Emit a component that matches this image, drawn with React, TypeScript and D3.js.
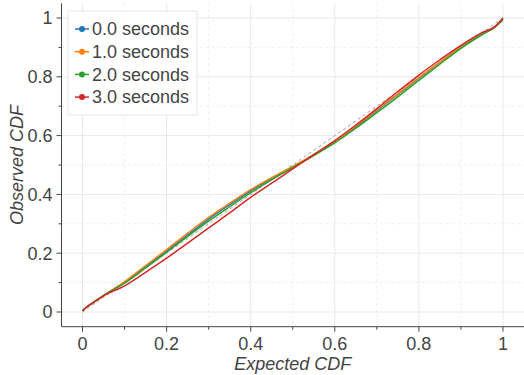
import React from "react";
import * as d3 from "d3";

// expected CDF sample points
const expected = [0, 0.01, 0.02, 0.05, 0.1, 0.15, 0.2, 0.25, 0.3, 0.35, 0.4, 0.45, 0.5, 0.55, 0.6, 0.65, 0.7, 0.75, 0.8, 0.85, 0.9, 0.95, 0.98, 1];

// observed CDF per lag
const obs0 = [0.004, 0.017, 0.027, 0.056, 0.1, 0.154, 0.207, 0.262, 0.316, 0.365, 0.412, 0.455, 0.493, 0.535, 0.58, 0.63, 0.685, 0.74, 0.795, 0.85, 0.902, 0.947, 0.97, 0.995];
const obs1 = [0.004, 0.017, 0.027, 0.056, 0.103, 0.158, 0.212, 0.268, 0.322, 0.37, 0.416, 0.457, 0.495, 0.535, 0.58, 0.632, 0.687, 0.742, 0.797, 0.85, 0.9, 0.945, 0.968, 0.998];
const obs2 = [0.004, 0.017, 0.027, 0.056, 0.098, 0.15, 0.203, 0.257, 0.309, 0.358, 0.406, 0.45, 0.491, 0.532, 0.575, 0.625, 0.678, 0.732, 0.788, 0.843, 0.897, 0.943, 0.968, 0.993];
const obs3 = [0.004, 0.017, 0.027, 0.055, 0.089, 0.135, 0.183, 0.234, 0.286, 0.337, 0.39, 0.438, 0.487, 0.535, 0.583, 0.636, 0.692, 0.75, 0.806, 0.858, 0.907, 0.95, 0.97, 1.0];

const seriesNames = ["0.0 seconds", "1.0 seconds", "2.0 seconds", "3.0 seconds"];
const seriesColors = ["#1f77b4", "#ff7f0e", "#2ca02c", "#d62728"];
const seriesValues = [obs0, obs1, obs2, obs3];

const majorTicks = [0, 0.2, 0.4, 0.6, 0.8, 1];
const minorTicks = [0.1, 0.3, 0.5, 0.7, 0.9];

const font = "'Liberation Sans', Arial, Helvetica, sans-serif";
const textColor = "#444";

export default function App() {
  const W = 524;
  const H = 375;
  const x = d3.scaleLinear().domain([-0.05, 1.05]).range([61.5, 524]);
  const y = d3.scaleLinear().domain([-0.05, 1.05]).range([326.7, 3.3]);

  const line = d3
    .line<[number, number]>()
    .x((d) => x(d[0]))
    .y((d) => y(d[1]))
    .curve(d3.curveMonotoneX);

  const fmt = (v: number) => (v === 0 || v === 1 ? String(v) : v.toFixed(1));
  const axisY = y(-0.05);
  const axisX = x(-0.05);

  return (
    <svg width={W} height={H} style={{ position: "absolute", left: 0, top: 0 }} fontFamily={font}>
      {/* grid */}
      <g>
        {minorTicks.map((t) => (
          <g key={"mn" + t}>
            <line x1={x(t)} x2={x(t)} y1={y(1.05)} y2={axisY} stroke="#eee" strokeDasharray="3,3" />
            <line x1={axisX} x2={W} y1={y(t)} y2={y(t)} stroke="#eee" strokeDasharray="3,3" />
          </g>
        ))}
        {majorTicks.map((t) => (
          <g key={"mj" + t}>
            <line x1={x(t)} x2={x(t)} y1={y(1.05)} y2={axisY} stroke="#e8e8e8" />
            <line x1={axisX} x2={W} y1={y(t)} y2={y(t)} stroke="#e8e8e8" />
          </g>
        ))}
      </g>

      {/* reference diagonal */}
      <path d={line([[0, 0], [1, 1]]) ?? ""} stroke="#999" strokeWidth={1} strokeDasharray="3,3" fill="none" />

      {/* curves */}
      {seriesValues.map((vals, i) => (
        <path
          key={seriesNames[i]}
          d={line(expected.map((e, j) => [e, vals[j]] as [number, number])) ?? ""}
          stroke={seriesColors[i]}
          strokeWidth={1.5}
          fill="none"
        />
      ))}

      {/* axes */}
      <line x1={axisX} x2={axisX} y1={y(1.05)} y2={axisY} stroke="#444" />
      <line x1={axisX} x2={W} y1={axisY} y2={axisY} stroke="#444" />
      {majorTicks.map((t) => (
        <g key={"tk" + t}>
          <line x1={axisX - 5} x2={axisX} y1={y(t)} y2={y(t)} stroke="#444" />
          <text x={axisX - 9} y={y(t)} dy="0.35em" textAnchor="end" fontSize={18} fill={textColor}>
            {fmt(t)}
          </text>
          <line x1={x(t)} x2={x(t)} y1={axisY} y2={axisY + 5} stroke="#444" />
          <text x={x(t)} y={axisY + 23} textAnchor="middle" fontSize={18} fill={textColor}>
            {fmt(t)}
          </text>
        </g>
      ))}
      {minorTicks.map((t) => (
        <g key={"mt" + t}>
          <line x1={axisX - 3} x2={axisX} y1={y(t)} y2={y(t)} stroke="#444" />
          <line x1={x(t)} x2={x(t)} y1={axisY} y2={axisY + 3} stroke="#444" />
        </g>
      ))}

      {/* axis titles */}
      <text x={x(0.5)} y={370} textAnchor="middle" fontSize={18} fontStyle="italic" fill={textColor}>
        Expected CDF
      </text>
      <text
        transform={`translate(23,${y(0.5)}) rotate(-90)`}
        textAnchor="middle"
        fontSize={18}
        fontStyle="italic"
        fill={textColor}
      >
        Observed CDF
      </text>

      {/* legend */}
      <g>
        <rect x={68} y={11} width={129} height={104} fill="#fff" fillOpacity={0.85} stroke="#e6e6e6" />
        {seriesNames.map((n, i) => {
          const cy = 29 + i * 22.7;
          return (
            <g key={"lg" + n}>
              <line x1={75} x2={89} y1={cy} y2={cy} stroke={seriesColors[i]} strokeWidth={1.5} />
              <circle cx={82} cy={cy} r={3} fill={seriesColors[i]} />
              <text x={92} y={cy} dy="0.35em" fontSize={18} fill={textColor}>
                {n}
              </text>
            </g>
          );
        })}
      </g>
    </svg>
  );
}
